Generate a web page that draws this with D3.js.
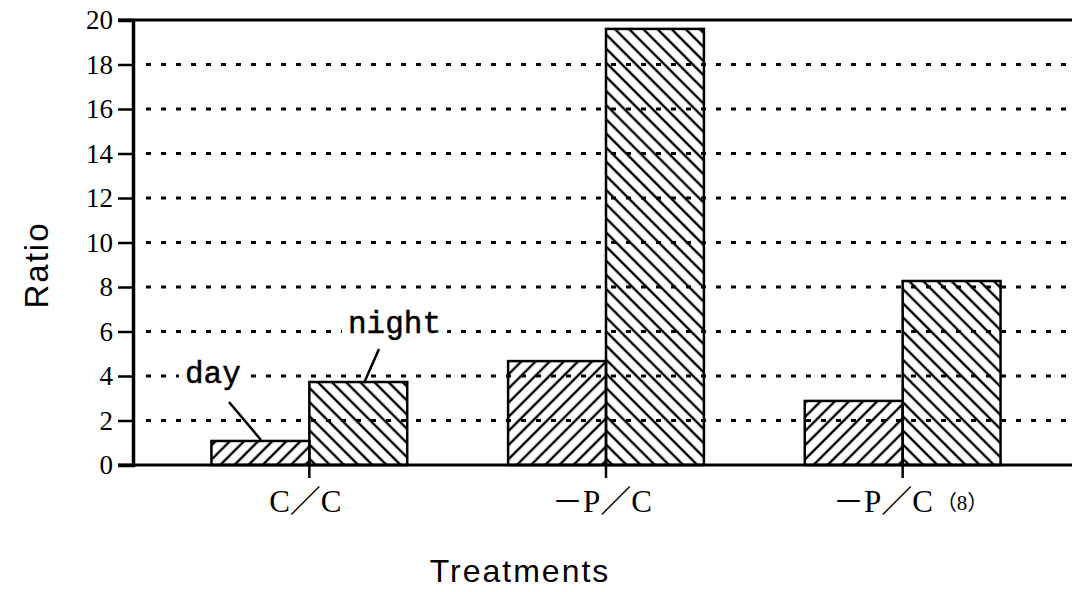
<!DOCTYPE html>
<html lang="en">
<head>
    <meta charset="UTF-8">
    <title>Ratio by treatment</title>
    <script src="https://d3js.org/d3.v7.min.js"></script>
    <style>
        body { margin: 0; background: #fff; }
    </style>
</head>
<body>
    <div id="graph"></div>
    <script>
        // values
        const treatments = ["C／C", "－P／C", "－P／C"];
        const suffixes = ["", "", "（8）"];
        const series = ["day", "night"];
        const dayValues = [1.08, 4.67, 2.88];
        const nightValues = [3.73, 19.6, 8.27];
        const yTicks = [0, 2, 4, 6, 8, 10, 12, 14, 16, 18, 20];

        const W = 1072, H = 592;
        const x0 = 133, x1 = 1072, yTop = 20, yBot = 465;

        const svg = d3.select("#graph")
            .append("svg")
            .attr("width", W)
            .attr("height", H);

        // hatch patterns
        const defs = svg.append("defs");
        defs.append("pattern")
            .attr("id", "hatch-day")
            .attr("patternUnits", "userSpaceOnUse")
            .attr("width", 10).attr("height", 10)
            .attr("patternTransform", "rotate(45)")
            .append("line")
            .attr("x1", 5).attr("y1", 0).attr("x2", 5).attr("y2", 10)
            .attr("stroke", "#000").attr("stroke-width", 2.4);
        defs.append("pattern")
            .attr("id", "hatch-night")
            .attr("patternUnits", "userSpaceOnUse")
            .attr("width", 10).attr("height", 10)
            .attr("patternTransform", "rotate(-45)")
            .append("line")
            .attr("x1", 5).attr("y1", 0).attr("x2", 5).attr("y2", 10)
            .attr("stroke", "#000").attr("stroke-width", 2.4);

        const x = d3.scaleBand()
            .domain(d3.range(treatments.length))
            .range([161, 1051])
            .paddingInner(0.34)
            .paddingOuter(0.17);

        const xs = d3.scaleBand()
            .domain(series)
            .range([0, x.bandwidth()]);

        const y = d3.scaleLinear()
            .domain([0, 20])
            .range([yBot, yTop]);

        // dotted gridlines
        svg.append("g")
            .selectAll("line")
            .data(yTicks.filter(d => d > 0 && d < 20))
            .join("line")
            .attr("x1", 146).attr("x2", x1)
            .attr("y1", d => y(d)).attr("y2", d => y(d))
            .attr("stroke", "#000")
            .attr("stroke-width", 3)
            .attr("stroke-dasharray", "5 10");

        // top frame line
        svg.append("line")
            .attr("x1", x0 - 15).attr("x2", x1)
            .attr("y1", y(20)).attr("y2", y(20))
            .attr("stroke", "#000").attr("stroke-width", 3);

        // y axis
        const yAxis = svg.append("g")
            .attr("transform", `translate(${x0},0)`)
            .call(d3.axisLeft(y).tickValues(yTicks).tickSize(15).tickPadding(5));
        yAxis.select(".domain").attr("stroke-width", 3.5);
        yAxis.selectAll(".tick line").attr("stroke-width", 2.5);
        yAxis.selectAll(".tick text")
            .attr("font-family", "Liberation Serif")
            .attr("font-size", 27)
            .attr("fill", "#000");

        // bars
        const rows = treatments.map((t, i) => ({ i, values: [dayValues[i], nightValues[i]] }));
        const groups = svg.append("g")
            .selectAll("g")
            .data(rows)
            .join("g")
            .attr("transform", d => `translate(${x(d.i)},0)`);
        groups.selectAll("rect")
            .data(d => d.values.map((v, k) => ({ key: series[k], v })))
            .join("rect")
            .attr("x", d => xs(d.key))
            .attr("y", d => y(d.v))
            .attr("width", xs.bandwidth())
            .attr("height", d => y(0) - y(d.v))
            .attr("fill", d => `url(#hatch-${d.key})`)
            .attr("stroke", "#000")
            .attr("stroke-width", 2.5);

        // x axis
        const xAxis = svg.append("g")
            .attr("transform", `translate(0,${yBot})`)
            .call(d3.axisBottom(x).tickSize(13).tickFormat(() => ""));
        xAxis.select(".domain").remove();
        xAxis.selectAll(".tick line").attr("stroke-width", 2.5);
        svg.append("line")
            .attr("x1", x0 - 15).attr("x2", x1)
            .attr("y1", yBot).attr("y2", yBot)
            .attr("stroke", "#000").attr("stroke-width", 3);

        // category labels
        const lab = svg.append("g")
            .selectAll("text")
            .data(treatments.map((t, i) => ({ t, i })))
            .join("text")
            .attr("x", d => x(d.i) + x.bandwidth() / 2 + (suffixes[d.i] ? 8 : -4))
            .attr("y", 512)
            .attr("text-anchor", "middle")
            .attr("font-family", "Liberation Serif, 'Noto Sans CJK JP'")
            .attr("font-size", 31)
            .attr("fill", "#000");
        lab.append("tspan").text(d => d.t);
        lab.filter(d => suffixes[d.i])
            .append("tspan")
            .attr("font-size", 21)
            .attr("dx", 3)
            .attr("dy", -2)
            .text(d => suffixes[d.i]);

        // series annotations
        const notes = [
            { text: "day", tx: 185, ty: 383, from: [229, 402], to: [261, 440] },
            { text: "night", tx: 348, ty: 333, from: [379, 349], to: [364, 383] }
        ];
        const noteLayer = svg.append("g");
        notes.forEach(n => {
            const bgRect = noteLayer.append("rect").attr("fill", "#fff");
            const t = noteLayer.append("text")
                .attr("x", n.tx).attr("y", n.ty)
                .attr("font-family", "Liberation Mono")
                .attr("font-size", 31)
                .attr("stroke", "#000")
                .attr("stroke-width", 0.5)
                .attr("fill", "#000")
                .text(n.text);
            const bb = t.node().getBBox();
            bgRect.attr("x", bb.x - 6).attr("y", bb.y + 4)
                .attr("width", bb.width + 12).attr("height", bb.height - 4);
            noteLayer.append("line")
                .attr("x1", n.from[0]).attr("y1", n.from[1])
                .attr("x2", n.to[0]).attr("y2", n.to[1])
                .attr("stroke", "#000").attr("stroke-width", 2.5);
        });

        // axis titles
        svg.append("text")
            .attr("transform", "translate(48,265) rotate(-90)")
            .attr("text-anchor", "middle")
            .attr("font-family", "Liberation Sans")
            .attr("font-size", 33)
            .attr("letter-spacing", 2)
            .text("Ratio");
        svg.append("text")
            .attr("x", 520).attr("y", 582)
            .attr("text-anchor", "middle")
            .attr("font-family", "Liberation Sans")
            .attr("font-size", 32)
            .attr("letter-spacing", 2)
            .text("Treatments");
    </script>
</body>
</html>
